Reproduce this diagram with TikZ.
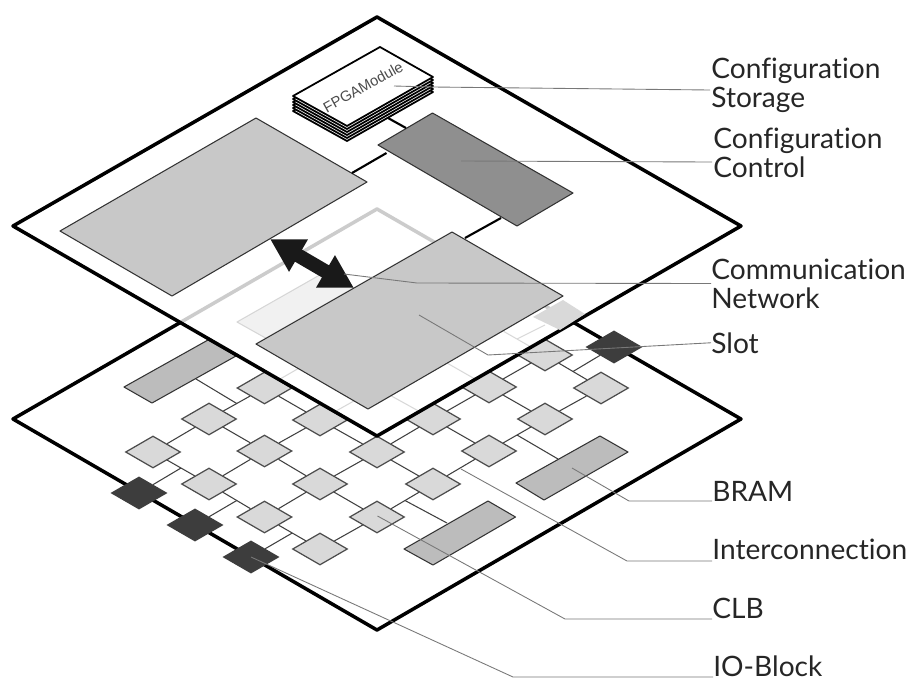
\documentclass[tikz,border=0pt]{standalone}
\usepackage{xcolor}
\usepackage{fontspec}
\usepackage{tikz}
\usetikzlibrary{shapes.geometric, arrows.meta, positioning, calc}
\setmainfont{Lato}[Ligatures=NoCommon]
\newfontfamily\modulefont{Liberation Sans}
\definecolor{clbgray}{RGB}{217, 217, 217}
\definecolor{iogray}{RGB}{61, 61, 61}
\definecolor{bramgray}{RGB}{188, 188, 188}
\definecolor{regiongray}{RGB}{200, 200, 200}
\definecolor{controlgray}{RGB}{143, 143, 143}
\definecolor{leadergray}{RGB}{120, 120, 120}
\tikzset{
    plate/.style={draw=black, line width=2pt, line join=round},
    clb/.style={diamond, aspect=1.72, draw=black!70, fill=clbgray, line width=0.7pt, minimum width=1.1cm, minimum height=0.64cm, inner sep=0pt},
    ioblock/.style={clb, fill=iogray, draw=iogray},
    wire/.style={draw=black!75, line width=0.6pt},
    busline/.style={draw=black, line width=1.2pt},
    block/.style={draw=black!80, line width=0.6pt, line join=round},
    leader/.style={draw=leadergray, line width=0.5pt},
    sheet/.style={line width=1pt, fill=white, line join=round},
    lbl/.style={inner sep=0pt, font=\fontsize{16}{16.5}\selectfont, align=left, text=black!85}
}

\begin{document}
\begin{tikzpicture}[x=0.02cm, y=-0.02cm]
    \useasboundingbox (0,0) rectangle (907,677);

    % Lower plate
    \draw[plate, fill=white] (377,209) -- (741,419) -- (377,630) -- (13,419) -- cycle;

    % BRAMs of the lower plate
    \draw[block, fill=bramgray] (124,387) -- (208,340) -- (236,356) -- (152,403) -- cycle;
    \draw[block, fill=bramgray] (516,483) -- (600,436) -- (628,452) -- (544,500) -- cycle;
    \draw[block, fill=bramgray] (404,549) -- (488,501) -- (515.5,517) -- (433,565) -- cycle;
    \draw[block, fill=bramgray] (237,322) -- (325,272) -- (375,300) -- (287,350) -- cycle;

    % CLBs
    \node[clb] (a1) at (153,452) {};
    \node[clb] (a2) at (209,419) {};
    \node[clb] (a3) at (264.5,388) {};
    \node[clb] (a4) at (320,356) {};
    \node[clb] (b1) at (209,484) {};
    \node[clb] (b2) at (264.5,451) {};
    \node[clb] (b3) at (320,420) {};
    \node[clb] (b4) at (377,388) {};
    \node[clb] (b5) at (433,355) {};
    \node[clb] (b6) at (489,323) {};
    \node[clb] (c1) at (264.5,517) {};
    \node[clb] (c2) at (320,484) {};
    \node[clb] (c3) at (377,452) {};
    \node[clb] (c4) at (433,419) {};
    \node[clb] (c5) at (489,387) {};
    \node[clb] (c6) at (545,355) {};
    \node[clb] (d1) at (320,549) {};
    \node[clb] (d2) at (377,517) {};
    \node[clb] (d3) at (433,484) {};
    \node[clb] (d4) at (489,451) {};
    \node[clb] (d5) at (545,419) {};
    \node[clb] (d6) at (601,388) {};

    % IO blocks
    \node[ioblock] (io1) at (139,493) {};
    \node[ioblock] (io2) at (195,525) {};
    \node[ioblock] (io3) at (251,557) {};
    \node[ioblock] (io4) at (614,347) {};

    % Interconnection
    \draw[wire] (a1) -- (a2);
    \draw[wire] (a2) -- (a3);
    \draw[wire] (a3) -- (a4);
    \draw[wire] (b1) -- (b2);
    \draw[wire] (b2) -- (b3);
    \draw[wire] (b3) -- (b4);
    \draw[wire] (c1) -- (c2);
    \draw[wire] (c2) -- (c3);
    \draw[wire] (c3) -- (c4);
    \draw[wire] (c4) -- (c5);
    \draw[wire] (c5) -- (c6);
    \draw[wire] (d1) -- (d2);
    \draw[wire] (d2) -- (d3);
    \draw[wire] (d3) -- (d4);
    \draw[wire] (d4) -- (d5);
    \draw[wire] (d5) -- (d6);
    \draw[wire] (a1) -- (b1);
    \draw[wire] (b1) -- (c1);
    \draw[wire] (c1) -- (d1);
    \draw[wire] (a2) -- (b2);
    \draw[wire] (b2) -- (c2);
    \draw[wire] (c2) -- (d2);
    \draw[wire] (a3) -- (b3);
    \draw[wire] (b3) -- (c3);
    \draw[wire] (c3) -- (d3);
    \draw[wire] (b4) -- (c4);
    \draw[wire] (c4) -- (d4);
    \draw[wire] (b5) -- (c5);
    \draw[wire] (c5) -- (d5);
    \draw[wire] (b6) -- (c6);
    \draw[wire] (c6) -- (d6);

    % Stubs to IO blocks and BRAMs
    \coordinate (bram1) at (196,379);
    \coordinate (bram2) at (558,459);
    \coordinate (bram3) at (447,523);
    \coordinate (bram4) at (545,325);
    \draw[wire] (io1) -- ($(a1)!.5!(b1)$);
    \draw[wire] (io2) -- ($(b1)!.5!(c1)$);
    \draw[wire] (io3) -- ($(c1)!.5!(d1)$);
    \draw[wire] (io4) -- ($(c6)!.5!(d6)$);
    \draw[wire] (bram1) -- ($(a2)!.5!(a3)$);
    \draw[wire] (bram2) -- ($(d4)!.5!(d5)$);
    \draw[wire] (bram3) -- ($(d2)!.5!(d3)$);
    \draw[wire] (bram4) -- ($(b6)!.5!(c6)$);

    % Upper plate, the lower one shows through
    \fill[white, opacity=0.8] (377,17) -- (741,226) -- (377,436) -- (13,226) -- cycle;
    \draw[plate] (377,17) -- (741,226) -- (377,436) -- (13,226) -- cycle;
    \fill[clbgray] (563,300) -- (585,314) -- (560,330) -- (533,317) -- cycle;

    % Regions
    \draw[block, fill=regiongray] (60,231) -- (256,118) -- (367,182) -- (172,296) -- cycle;
    \draw[block, fill=regiongray] (256,344) -- (452,232) -- (563,296) -- (368,409) -- cycle;
    \draw[block, fill=controlgray] (378,145) -- (432.5,113) -- (573,193) -- (517,226) -- cycle;

    % Bus lines
    \coordinate (stackfoot) at (388,118);
    \coordinate (ctrltop) at (406,128);
    \coordinate (ctrlleft) at (386.5,153);
    \coordinate (leftedge) at (352,173);
    \coordinate (ctrlfoot) at (501,218);
    \coordinate (commtop) at (465,238);
    \draw[busline] (stackfoot) -- (ctrltop);
    \draw[busline] (ctrlleft) -- (leftedge);
    \draw[busline] (ctrlfoot) -- (commtop);

    % Configuration storage stack
    \draw[sheet] (380,62) -- (433,92) -- (347,141) -- (293,111) -- cycle;
    \draw[sheet] (380,59) -- (433,89) -- (347,138) -- (293,108) -- cycle;
    \draw[sheet] (380,56) -- (433,86) -- (347,135) -- (293,105) -- cycle;
    \draw[sheet] (380,53) -- (433,83) -- (347,132) -- (293,102) -- cycle;
    \draw[sheet] (380,50) -- (433,80) -- (347,129) -- (293,99) -- cycle;
    \draw[sheet] (380,47) -- (433,77) -- (347,126) -- (293,96) -- cycle;
    \node[rotate=29, text=black!70, font=\modulefont\fontsize{8.4}{10}\selectfont, inner sep=0pt] (module) at (363,87) {FPGAModule};

    % Communication arrow
    \coordinate (arrowa) at (270,239);
    \coordinate (arrowb) at (354,288);
    \draw[{Triangle[length=0.66cm, width=0.7cm]}-{Triangle[length=0.66cm, width=0.7cm]}, line width=0.28cm, black!90] (arrowa) -- (arrowb);

    % Labels
    \node[lbl, anchor=west] (storage) at (711,85.5) {Configuration\\Storage};
    \node[lbl, anchor=west] (control) at (713,153) {Configuration\\Control};
    \node[lbl, anchor=west] (network) at (711,283.5) {Communication\\Network};
    \node[lbl, anchor=base west] (slot) at (711,353) {Slot};
    \node[lbl, anchor=base west] (bram) at (712,501) {BRAM};
    \node[lbl, anchor=base west] (inter) at (712,559) {Interconnection};
    \node[lbl, anchor=base west] (clblabel) at (712,618) {CLB};
    \node[lbl, anchor=base west] (iolabel) at (713,676) {IO-Block};

    % Leaders
    \coordinate (lstorage) at (394,86);
    \coordinate (estorage) at (710,90);
    \coordinate (lcontrol) at (461,161);
    \coordinate (econtrol) at (712,162);
    \coordinate (lnetwork) at (344,274);
    \coordinate (bnetwork) at (417,283);
    \coordinate (lslot) at (419,315);
    \coordinate (bslot) at (488,355);
    \coordinate (lbram) at (572,468);
    \coordinate (bbram) at (629,501);
    \coordinate (linter) at (461,469);
    \coordinate (binter) at (627,561);
    \coordinate (lclb) at (377.5,516);
    \coordinate (bclb) at (565,619);
    \coordinate (bio) at (513,677);
    \draw[leader] (lstorage) -- (433,87) -- (estorage);
    \draw[leader] (lcontrol) -- (econtrol);
    \draw[leader] (lnetwork) -- (bnetwork) -- (network.west);
    \draw[leader] (lslot) -- (bslot) -- (slot.west);
    \draw[leader] (lbram) -- (bbram) -- (bram.base west);
    \draw[leader] (linter) -- (binter) -- (inter.base west |- binter);
    \draw[leader] (lclb) -- (bclb) -- (clblabel.base west |- bclb);
    \draw[leader] (io3.center) -- (bio) -- (iolabel.base west |- bio);
\end{tikzpicture}
\end{document}
